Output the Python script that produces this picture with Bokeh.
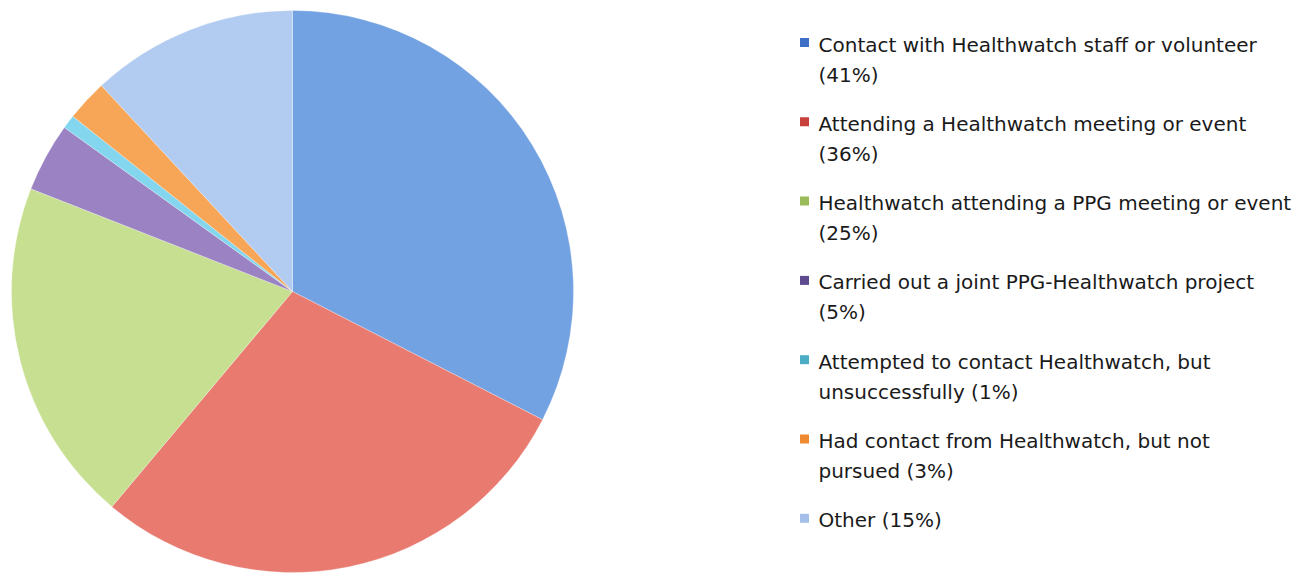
import math
from bokeh.plotting import figure
from bokeh.models import ColumnDataSource, Range1d
from bokeh.core.properties import value
from bokeh.embed import file_html
from bokeh.resources import INLINE

# ---- data ----
legend_labels = [
    "Contact with Healthwatch staff or volunteer\n(41%)",
    "Attending a Healthwatch meeting or event\n(36%)",
    "Healthwatch attending a PPG meeting or event\n(25%)",
    "Carried out a joint PPG-Healthwatch project\n(5%)",
    "Attempted to contact Healthwatch, but\nunsuccessfully (1%)",
    "Had contact from Healthwatch, but not\npursued (3%)",
    "Other (15%)",
]
values = [41, 36, 25, 5, 1, 3, 15]
slice_colors = ["#73a2e2", "#e87a70", "#c6df90", "#9b83c3", "#84d6ee", "#f7a556", "#b2cbf1"]
marker_colors = ["#3d6fc4", "#c8403c", "#9bbb59", "#5e4a8e", "#4bacc6", "#f08a30", "#a4bfe9"]

# ---- layout ----
W, H = 1303, 574
p = figure(width=W, height=H, output_backend="svg", toolbar_location=None,
           x_range=Range1d(0, W), y_range=Range1d(0, H), min_border=0)
p.axis.visible = False
p.grid.visible = False
p.outline_line_color = None
p.background_fill_color = "white"

def sy(y):  # screen y -> data y
    return H - y

total = float(sum(values))
starts, ends = [], []
cum = 0.0
for v in values:
    starts.append(math.pi / 2 - 2 * math.pi * cum / total)
    cum += v
    ends.append(math.pi / 2 - 2 * math.pi * cum / total)

src = ColumnDataSource(dict(start=starts, end=ends, color=slice_colors))
p.wedge(x=292, y=sy(291), radius=281, radius_units="screen",
        start_angle="start", end_angle="end", direction="clock",
        fill_color="color", line_color="white", line_alpha=0.35, line_width=0.8,
        source=src)

# legend
step = 79.3
first = [lab.split("\n")[0] for lab in legend_labels]
second = [lab.split("\n")[1] if "\n" in lab else "" for lab in legend_labels]
ys1 = [sy(44 + i * step) for i in range(len(legend_labels))]
ys2 = [y - 30 for y in ys1]
lsrc = ColumnDataSource(dict(y1=ys1, y2=ys2, t1=first, t2=second, c=marker_colors,
                             x=[818] * len(first), mx=[804] * len(first),
                             my=[y + 2 for y in ys1]))
p.rect(x="mx", y="my", width=9, height=9, fill_color="c", line_color=None, source=lsrc)
p.text(x="x", y="y1", text="t1", source=lsrc, text_font=value("DejaVu Sans"),
       text_font_size="20px", text_baseline="middle", text_color="#1a1a1a")
p.text(x="x", y="y2", text="t2", source=lsrc, text_font=value("DejaVu Sans"),
       text_font_size="20px", text_baseline="middle", text_color="#1a1a1a")

open("out.html", "w").write(file_html(p, INLINE))
